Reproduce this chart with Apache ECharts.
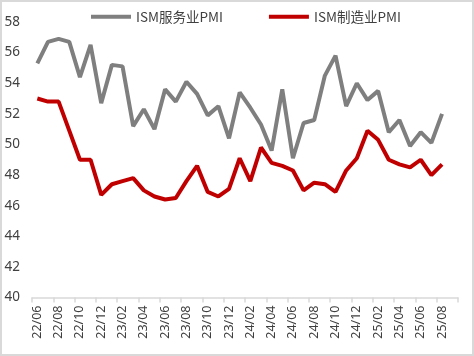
<!DOCTYPE html>
<html><head><meta charset="utf-8">
<script src="https://cdn.jsdelivr.net/npm/echarts@6/dist/echarts.min.js"></script>
<style>
html,body{margin:0;padding:0;background:#fff;}
#wrap{width:474px;height:356px;box-sizing:border-box;border:2px solid #d9d9d9;position:relative;}
#c{position:absolute;left:-2px;top:-2px;width:474px;height:356px;}
</style></head>
<body><div id="wrap"><div id="c"></div></div>
<script>
const categories = ['22/06','22/07','22/08','22/09','22/10','22/11','22/12',
 '23/01','23/02','23/03','23/04','23/05','23/06','23/07','23/08','23/09','23/10','23/11','23/12',
 '24/01','24/02','24/03','24/04','24/05','24/06','24/07','24/08','24/09','24/10','24/11','24/12',
 '25/01','25/02','25/03','25/04','25/05','25/06','25/07','25/08','25/09'];
const servicesPMI = [55.3,56.7,56.9,56.7,54.4,56.5,52.7,55.2,55.1,51.2,52.3,51.0,53.6,52.8,54.1,53.3,51.9,52.5,50.4,
 53.4,52.4,51.3,49.6,53.6,49.1,51.4,51.6,54.5,55.8,52.5,54.0,52.9,53.5,50.8,51.6,49.9,50.8,50.1,52.0,null];
const manufacturingPMI = [53.0,52.8,52.8,50.9,49.0,49.0,46.7,47.4,47.6,47.8,47.0,46.6,46.4,46.5,47.6,48.6,46.9,46.6,47.1,
 49.1,47.6,49.8,48.8,48.6,48.3,47.0,47.5,47.4,46.9,48.3,49.1,50.9,50.3,49.0,48.7,48.5,49.0,48.0,48.7,null];
const seriesNames = ['ISM服务业PMI','ISM制造业PMI'];

const chart = echarts.init(document.getElementById('c'));
chart.setOption({
  animation:false,
  textStyle:{fontFamily:'"Noto Sans CJK SC", "Noto Sans", sans-serif'},
  legend:{
    top:5, left:86, itemGap:46, itemWidth:40, itemHeight:4,
    icon:'rect',
    textStyle:{fontSize:13.5, color:'#404040', fontFamily:'"Noto Sans CJK SC", sans-serif'},
    data:seriesNames
  },
  grid:{left:32, right:16, top:22, bottom:58.5},
  xAxis:{
    type:'category', data:categories, boundaryGap:true,
    axisLine:{lineStyle:{color:'#d9d9d9', width:1.5}},
    axisTick:{show:true, interval:1, length:5, lineStyle:{color:'#d9d9d9', width:1.5}},
    axisLabel:{interval:1, rotate:90, fontSize:12.5, color:'#404040', margin:8,
      fontFamily:'"Noto Sans", sans-serif'}
  },
  yAxis:{
    type:'value', min:40, max:58, interval:2,
    axisLine:{show:false}, axisTick:{show:false}, splitLine:{show:false},
    axisLabel:{fontSize:13.5, color:'#404040', margin:12, fontFamily:'"Noto Sans", sans-serif'}
  },
  series:[
    {name:seriesNames[0], type:'line', data:servicesPMI, symbol:'none',
     lineStyle:{color:'#7f7f7f', width:4}, itemStyle:{color:'#7f7f7f'}},
    {name:seriesNames[1], type:'line', data:manufacturingPMI, symbol:'none',
     lineStyle:{color:'#c00000', width:4}, itemStyle:{color:'#c00000'}}
  ]
});
</script></body></html>
